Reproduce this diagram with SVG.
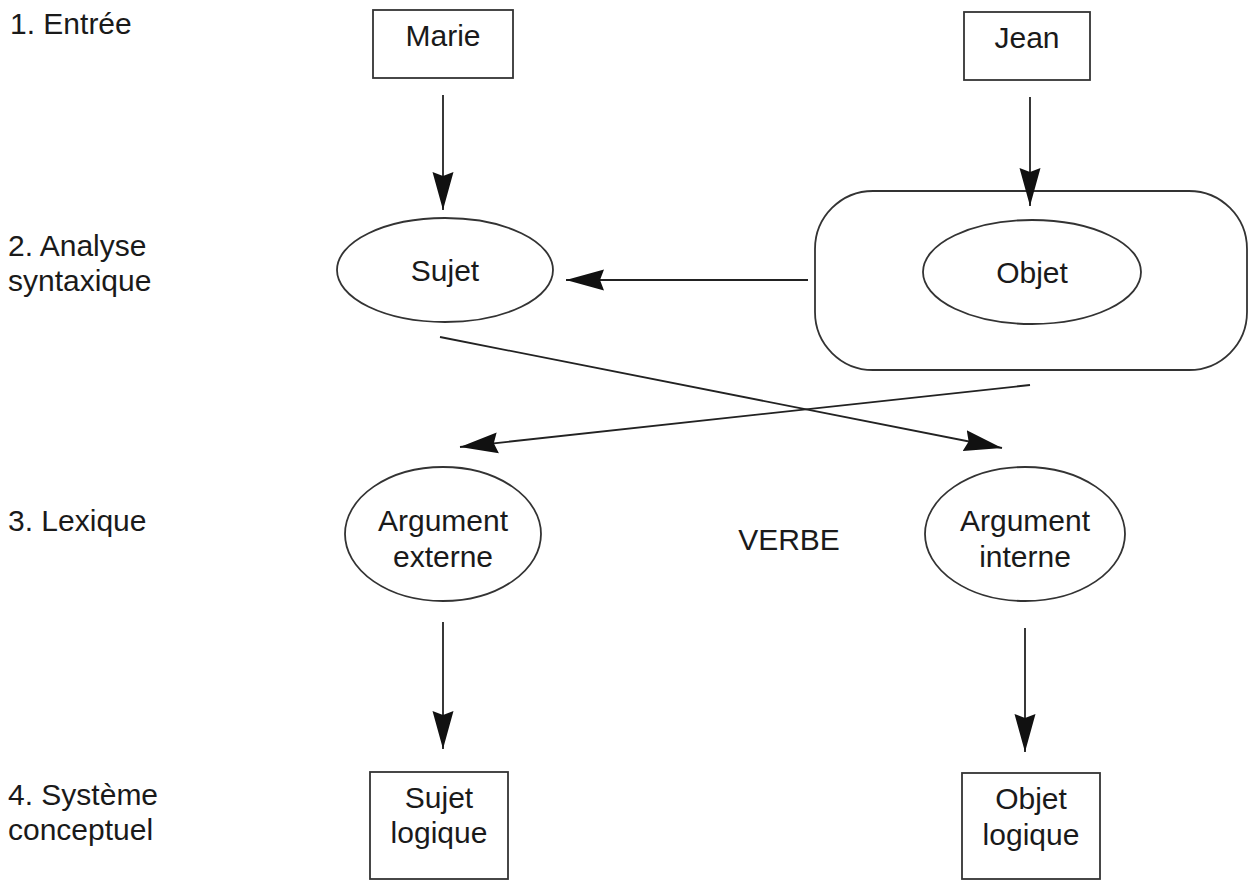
<svg xmlns="http://www.w3.org/2000/svg" width="1252" height="880" viewBox="0 0 1252 880">
<style>
text{font-family:"Liberation Sans",Arial,sans-serif;font-size:30px;fill:#1a1a1a}
.c{text-anchor:middle}
.n{fill:#fff;stroke:#333;stroke-width:1.8}
.e{stroke:#222;stroke-width:1.8;fill:none;marker-end:url(#ah)}
</style>
<defs>
<marker id="ah" markerUnits="userSpaceOnUse" markerWidth="40" markerHeight="24" refX="38" refY="12" orient="auto">
<path d="M0,1.5 L38,12 L0,22.5 L4,12 z" fill="#111"/>
</marker>
</defs>
<rect width="1252" height="880" fill="#fff"/>
<g id="levels">
<text x="10" y="34">1. Entrée</text>
<text x="8" y="256">2. Analyse</text>
<text x="8" y="291">syntaxique</text>
<text x="8" y="531">3. Lexique</text>
<text x="8" y="805">4. Système</text>
<text x="8" y="840">conceptuel</text>
</g>
<g id="marie"><rect class="n" x="373" y="10" width="140" height="68"/><text class="c" x="443" y="46">Marie</text></g>
<g id="jean"><rect class="n" x="964" y="12" width="126" height="68"/><text class="c" x="1027" y="48">Jean</text></g>
<g id="sn-objet"><rect class="n" x="815" y="191" width="432" height="179" rx="58" ry="58"/></g>
<g id="objet"><ellipse class="n" cx="1032" cy="272" rx="109" ry="52"/><text class="c" x="1032" y="283">Objet</text></g>
<g id="sujet"><ellipse class="n" cx="445" cy="270" rx="108" ry="52"/><text class="c" x="445" y="281">Sujet</text></g>
<g id="arg-externe"><ellipse class="n" cx="443" cy="534" rx="98" ry="67"/><text class="c" x="443" y="531">Argument</text><text class="c" x="443" y="567">externe</text></g>
<g id="verbe"><text class="c" x="789" y="550">VERBE</text></g>
<g id="arg-interne"><ellipse class="n" cx="1025" cy="534" rx="100" ry="67"/><text class="c" x="1025" y="531">Argument</text><text class="c" x="1025" y="567">interne</text></g>
<g id="sujet-logique"><rect class="n" x="370" y="772" width="138" height="107"/><text class="c" x="439" y="808">Sujet</text><text class="c" x="439" y="843">logique</text></g>
<g id="objet-logique"><rect class="n" x="962" y="773" width="138" height="106"/><text class="c" x="1031" y="809">Objet</text><text class="c" x="1031" y="845">logique</text></g>
<g id="connectors">
<line class="e" x1="443" y1="95" x2="443" y2="210"/>
<line class="e" x1="1030" y1="97" x2="1030" y2="206"/>
<line class="e" x1="808" y1="280" x2="566" y2="280"/>
<line class="e" x1="440" y1="337" x2="1002" y2="448"/>
<line class="e" x1="1030" y1="385" x2="460" y2="447"/>
<line class="e" x1="443" y1="622" x2="443" y2="749"/>
<line class="e" x1="1025" y1="628" x2="1025" y2="752"/>
</g>
</svg>
